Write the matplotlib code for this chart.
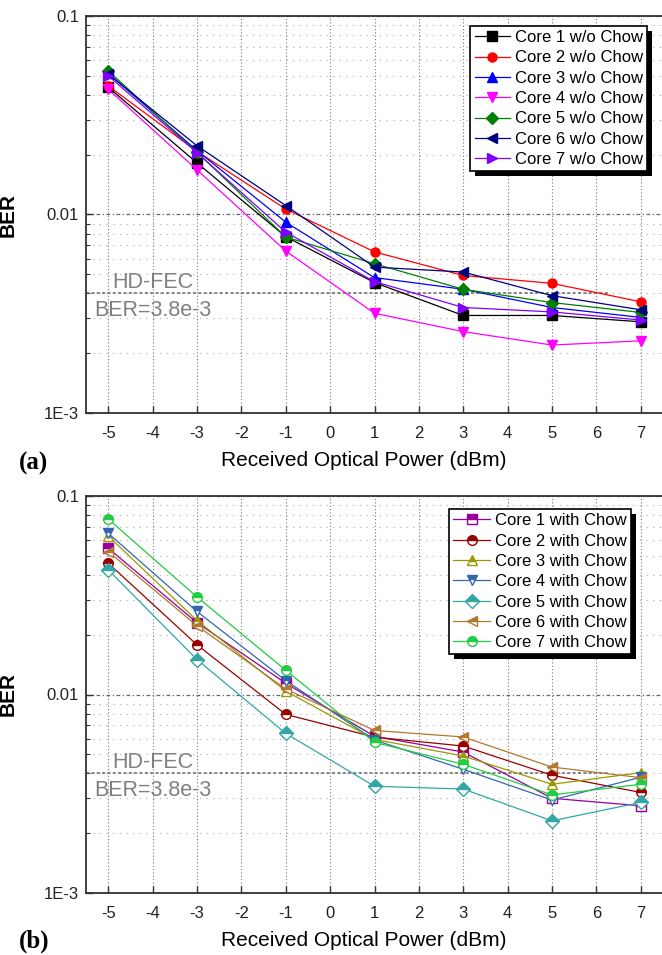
import numpy as np
import matplotlib
matplotlib.use('Agg')
import matplotlib.pyplot as plt
from matplotlib.patches import Rectangle

plt.rcParams['font.family'] = ['Liberation Sans', 'DejaVu Sans']
plt.rcParams['axes.unicode_minus'] = False

power = [-5, -3, -1, 1, 3, 5, 7]

# (a) without Chow
core1_wo = [0.0438, 0.0182, 0.00773, 0.00454, 0.0031, 0.0031, 0.00288]
core2_wo = [0.0445, 0.0208, 0.01066, 0.00648, 0.00493, 0.0045, 0.00363]
core3_wo = [0.0515, 0.0210, 0.00915, 0.00481, 0.0042, 0.0034, 0.00303]
core4_wo = [0.0428, 0.0168, 0.00655, 0.00318, 0.00257, 0.0022, 0.00231]
core5_wo = [0.0530, 0.0206, 0.0077, 0.00565, 0.0042, 0.0036, 0.00321]
core6_wo = [0.0510, 0.0222, 0.0111, 0.00543, 0.00513, 0.0039, 0.00331]
core7_wo = [0.0500, 0.0205, 0.00815, 0.00459, 0.0034, 0.00323, 0.00294]

# (b) with Chow
core1_w = [0.0546, 0.0230, 0.0114, 0.00615, 0.00513, 0.0030, 0.00275]
core2_w = [0.0459, 0.0178, 0.00794, 0.0061, 0.0055, 0.00392, 0.00321]
core3_w = [0.0629, 0.0236, 0.0104, 0.00594, 0.0049, 0.00353, 0.00404]
core4_w = [0.0649, 0.0262, 0.01175, 0.0059, 0.0042, 0.00294, 0.00383]
core5_w = [0.0425, 0.0150, 0.00637, 0.00345, 0.00334, 0.00231, 0.00286]
core6_w = [0.0525, 0.0222, 0.01066, 0.00659, 0.00611, 0.00431, 0.00381]
core7_w = [0.0766, 0.0310, 0.01325, 0.00574, 0.00445, 0.00312, 0.00353]

labels_wo = ['Core %d w/o Chow' % i for i in range(1, 8)]
labels_w = ['Core %d with Chow' % i for i in range(1, 8)]

hd_fec = 3.8e-3
xticks = list(range(-5, 8))
yticks = [1e-3, 1e-2, 1e-1]
ytick_labels = ['1E-3', '0.01', '0.1']

colors_wo = ['#000000', '#ff0000', '#0000ff', '#ff00ff', '#008000', '#000080', '#8000ff']
markers_wo = ['s', 'o', '^', 'v', 'D', '<', '>']
colors_w = ['#990099', '#990000', '#999900', '#3366b0', '#33a6a6', '#b07830', '#22cc44']
markers_w = ['s', 'o', '^', 'v', 'D', '<', 'o']

fig = plt.figure(figsize=(6.62, 9.55), dpi=100)
ax_a = fig.add_axes([86 / 662, 1 - 413 / 955, 577 / 662, 397 / 955])
ax_b = fig.add_axes([86 / 662, 1 - 893 / 955, 577 / 662, 397 / 955])


def setup_axes(ax):
    ax.set_yscale('log')
    ax.set_xlim(-5.5, 7.5)
    ax.set_ylim(1e-3, 1e-1)
    ax.set_xticks(xticks)
    ax.set_yticks(yticks, ytick_labels)
    ax.yaxis.set_minor_locator(matplotlib.ticker.LogLocator(base=10, subs=np.arange(2, 10)))
    ax.yaxis.set_minor_formatter(matplotlib.ticker.NullFormatter())
    ax.tick_params(axis='both', which='major', direction='in', length=5, width=1,
                   labelsize=12, labelcolor='#222222', color='#333333')
    ax.tick_params(axis='x', pad=9)
    ax.tick_params(axis='y', pad=5)
    ax.tick_params(axis='y', which='minor', direction='in', length=3, width=0.8, color='#333333')
    for sp in ax.spines.values():
        sp.set_color('#333333')
        sp.set_linewidth(1.3)
    # grid
    ax.grid(True, axis='x', which='major', color='#777777', lw=0.8, ls=(0, (1, 2)))
    ax.grid(True, axis='y', which='major', color='#666666', lw=0.9, ls=(0, (3, 2, 1, 2)))
    ax.grid(True, axis='y', which='minor', color='#aaaaaa', lw=0.8, ls=(0, (1, 5)))
    ax.set_axisbelow(True)
    # HD-FEC threshold
    ax.plot([-5.5, 6.3], [4e-3, 4e-3], color='#666666', lw=1.1, ls=(0, (2, 1.5)), zorder=1)
    ax.text(-4.0, 4.55e-3, 'HD-FEC', color='#808080', fontsize=15.5, ha='center', va='center')
    ax.text(-4.0, 3.3e-3, 'BER=%.1fe-3' % (hd_fec * 1e3), color='#808080', fontsize=15.5,
            ha='center', va='center')
    ax.set_xlabel('Received Optical Power (dBm)', fontsize=15)
    ax.set_ylabel('BER', fontsize=15, fontweight='bold')
    ax.xaxis.set_label_coords(0.482, -0.095)
    ax.yaxis.set_label_coords(-0.118, 0.5)


def add_shadow(ax, leg):
    fig.canvas.draw()
    bb = leg.get_window_extent().transformed(fig.transFigure.inverted())
    dx, dy = 5 / 662, 5 / 955
    rect = Rectangle((bb.x0 + dx, bb.y0 - dy), bb.width, bb.height, transform=fig.transFigure,
                     facecolor='black', edgecolor='none', zorder=4.9, clip_on=False)
    ax.add_patch(rect)


setup_axes(ax_a)
series_wo = [core1_wo, core2_wo, core3_wo, core4_wo, core5_wo, core6_wo, core7_wo]
for vals, c, m, lab in zip(series_wo, colors_wo, markers_wo, labels_wo):
    ax_a.plot(power, vals, color=c, marker=m, ms=6.5, mfc=c, mec=c, lw=0.9, label=lab, zorder=3)
leg_a = ax_a.legend(loc='upper right', bbox_to_anchor=(0.972, 0.975), borderaxespad=0,
                    fontsize=12, frameon=True, fancybox=False, framealpha=1, edgecolor='black',
                    handlelength=2.1, handletextpad=0.3, labelspacing=0.32, borderpad=0.25,
                    numpoints=1)
leg_a.get_frame().set_linewidth(1.2)
leg_a.set_zorder(5)

setup_axes(ax_b)
series_w = [core1_w, core2_w, core3_w, core4_w, core5_w, core6_w, core7_w]
for vals, c, m, lab in zip(series_w, colors_w, markers_w, labels_w):
    ax_b.plot(power, vals, color=c, marker=m, ms=7, fillstyle='top', mfc=c,
              markerfacecoloralt='white', mec=c, lw=0.9, label=lab, zorder=3)
leg_b = ax_b.legend(loc='upper right', bbox_to_anchor=(0.9445, 0.967), borderaxespad=0,
                    fontsize=12, frameon=True, fancybox=False, framealpha=1, edgecolor='black',
                    handlelength=2.2, handletextpad=0.3, labelspacing=0.32, borderpad=0.25,
                    numpoints=1)
leg_b.get_frame().set_linewidth(1.2)
leg_b.set_zorder(5)

fig.text(34 / 662, 1 - 463 / 955, '(a)', fontsize=18, fontweight='bold',
         family='Liberation Serif', ha='center', va='center')
fig.text(34 / 662, 1 - 941 / 955, '(b)', fontsize=18, fontweight='bold',
         family='Liberation Serif', ha='center', va='center')

add_shadow(ax_a, leg_a)
add_shadow(ax_b, leg_b)

fig.savefig('out.png', dpi=100)
